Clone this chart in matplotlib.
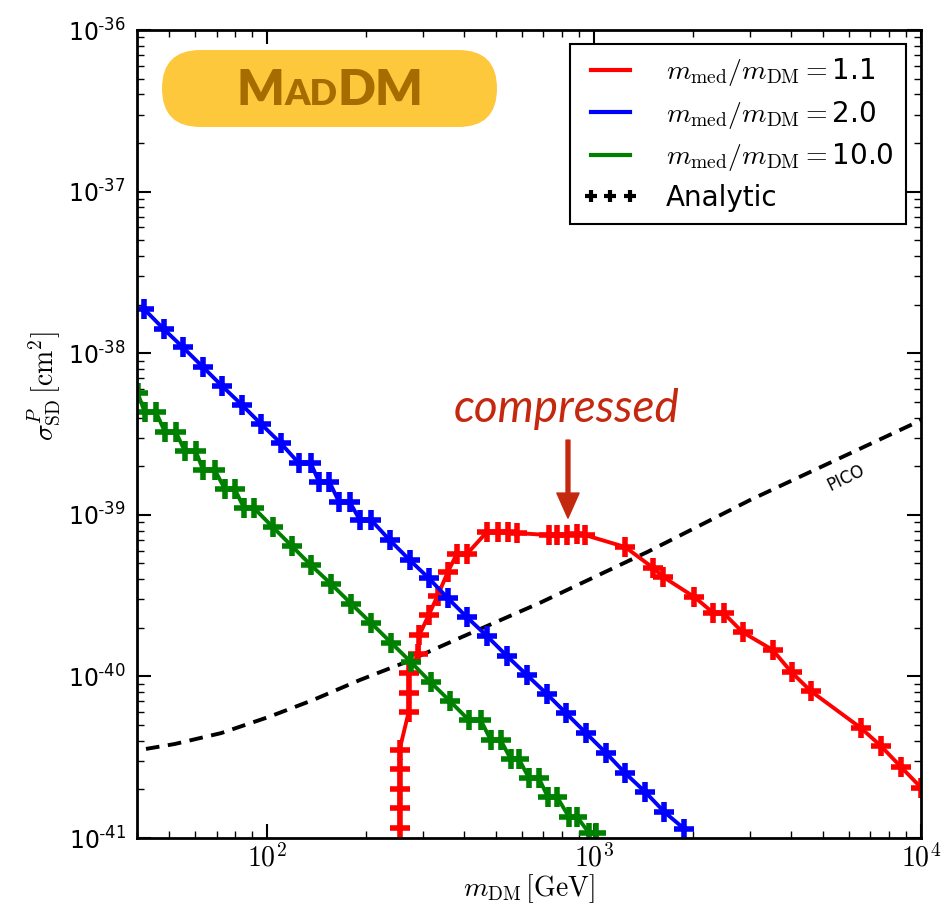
import numpy as np
import matplotlib
matplotlib.use('Agg')
import matplotlib.pyplot as plt
from matplotlib.lines import Line2D
from matplotlib.patches import FancyBboxPatch
from matplotlib.offsetbox import TextArea, HPacker, AnnotationBbox
from matplotlib.ticker import FixedLocator, FixedFormatter, LogLocator, NullFormatter

plt.rcParams['mathtext.fontset'] = 'cm'

# m_med/m_DM = 1.1
red_x = [254, 254, 254, 254, 254, 271, 271, 271, 290, 292, 312, 332, 357, 380, 408,
         470, 508, 545, 581, 728, 771, 827, 887, 938, 1245, 1517, 1629, 2027, 2317,
         2488, 2845, 3516, 4018, 4600, 6546, 7540, 8690, 10000]
red_y = [1.15e-41, 1.53e-41, 2.01e-41, 2.67e-41, 3.51e-41, 6.03e-41, 7.89e-41, 1.05e-40,
         1.38e-40, 1.80e-40, 2.40e-40, 3.15e-40, 4.43e-40, 5.72e-40, 5.72e-40, 7.83e-40,
         7.83e-40, 7.83e-40, 7.71e-40, 7.50e-40, 7.50e-40, 7.50e-40, 7.62e-40, 7.50e-40,
         6.32e-40, 4.69e-40, 4.12e-40, 3.10e-40, 2.47e-40, 2.47e-40, 1.88e-40, 1.46e-40,
         1.06e-40, 8.12e-41, 4.80e-41, 3.71e-41, 2.75e-41, 2.05e-41]

# m_med/m_DM = 2.0
blue_x = [42.0, 48.3, 55.2, 63.6, 72.8, 83.8, 95.8, 110, 125, 136, 144, 155, 166, 179,
          192, 208, 237, 273, 312, 357, 408, 470, 541, 623, 717, 820, 945, 1088, 1245,
          1433, 1640, 1888]
blue_y = [1.88e-38, 1.41e-38, 1.09e-38, 8.22e-39, 6.27e-39, 4.78e-39, 3.65e-39, 2.78e-39,
          2.09e-39, 2.09e-39, 1.60e-39, 1.60e-39, 1.20e-39, 1.20e-39, 9.29e-40, 9.29e-40,
          6.98e-40, 5.25e-40, 4.06e-40, 3.05e-40, 2.33e-40, 1.78e-40, 1.34e-40, 1.02e-40,
          7.79e-41, 5.94e-41, 4.46e-41, 3.36e-41, 2.52e-41, 1.93e-41, 1.45e-41, 1.14e-41]

# m_med/m_DM = 10.0
green_x = [40.2, 42.2, 45.7, 48.7, 52.6, 56.0, 60.5, 63.7, 69.2, 74.3, 79.7, 85.0, 91.2,
           104, 119, 136, 157, 181, 208, 240, 275, 316, 362, 414, 450, 483, 518, 556,
           589, 632, 678, 722, 771, 838, 887, 967, 1014]
green_y = [5.67e-39, 4.33e-39, 4.33e-39, 3.25e-39, 3.25e-39, 2.48e-39, 2.48e-39, 1.89e-39,
           1.89e-39, 1.44e-39, 1.44e-39, 1.10e-39, 1.10e-39, 8.41e-40, 6.41e-40, 4.89e-40,
           3.73e-40, 2.81e-40, 2.14e-40, 1.61e-40, 1.23e-40, 9.23e-41, 7.05e-41, 5.37e-41,
           5.37e-41, 4.04e-41, 4.04e-41, 3.08e-41, 3.08e-41, 2.35e-41, 2.35e-41, 1.79e-41,
           1.79e-41, 1.35e-41, 1.35e-41, 1.07e-41, 1.07e-41]

# PICO limit
pico_x = [42.6, 52.2, 72.3, 101, 138, 192, 261, 388, 682, 1455, 3013, 10000]
pico_y = [3.56e-41, 3.82e-41, 4.46e-41, 5.61e-41, 7.14e-41, 9.5e-41, 1.21e-40, 1.73e-40,
          2.85e-40, 5.89e-40, 1.24e-39, 3.85e-39]

labels = [r'$m_{\rm med}/m_{\rm DM}=$1.1', r'$m_{\rm med}/m_{\rm DM}=$2.0',
          r'$m_{\rm med}/m_{\rm DM}=$10.0', 'Analytic']
xticks = [1e2, 1e3, 1e4]
xticklabels = [r'$10^{2}$', r'$10^{3}$', r'$10^{4}$']
yticks = [1e-41, 1e-40, 1e-39, 1e-38, 1e-37, 1e-36]
yticklabels = [r'$\mathregular{10^{\text{-}41}}$', r'$\mathregular{10^{\text{-}40}}$',
               r'$\mathregular{10^{\text{-}39}}$', r'$\mathregular{10^{\text{-}38}}$',
               r'$\mathregular{10^{\text{-}37}}$', r'$\mathregular{10^{\text{-}36}}$']

fig = plt.figure(figsize=(9.51, 9.13), dpi=100)
ax = fig.add_axes([0.1441, 0.0821, 0.8244, 0.885])

kw = dict(lw=2.8, marker='+', ms=14, mew=4)
ax.plot(pico_x, pico_y, color='k', ls='--', lw=2.8, dashes=(3.5, 2.2))
ax.plot(red_x, red_y, color='r', **kw)
ax.plot(green_x, green_y, color='g', **kw)
ax.plot(blue_x, blue_y, color='b', **kw)

ax.set_xscale('log')
ax.set_yscale('log')
ax.set_xlim(40, 1e4)
ax.set_ylim(1e-41, 1e-36)

ax.xaxis.set_major_locator(FixedLocator(xticks))
ax.xaxis.set_major_formatter(FixedFormatter(xticklabels))
ax.yaxis.set_major_locator(FixedLocator(yticks))
ax.yaxis.set_major_formatter(FixedFormatter(yticklabels))
ax.xaxis.set_minor_locator(LogLocator(base=10, subs=np.arange(2, 10)))
ax.yaxis.set_minor_locator(LogLocator(base=10, subs=np.arange(2, 10)))
ax.xaxis.set_minor_formatter(NullFormatter())
ax.yaxis.set_minor_formatter(NullFormatter())

ax.tick_params(which='both', direction='in', top=True, right=True)
ax.tick_params(which='major', length=10, width=1.5)
ax.tick_params(which='minor', length=5, width=1)
ax.tick_params(axis='x', labelsize=20, pad=4)
ax.tick_params(axis='y', labelsize=17, pad=8)
for s in ax.spines.values():
    s.set_linewidth(2)

ax.set_xlabel(r'$m_{\rm DM}\,[{\rm GeV}]$', fontsize=20, va='center')
ax.set_ylabel(r'$\sigma^P_{\rm SD}\,[{\rm cm}^2]$', fontsize=20, va='center')
ax.xaxis.set_label_coords(0.5, -0.062)
ax.yaxis.set_label_coords(-0.118, 0.559)

handles = [Line2D([], [], color='r', lw=3),
           Line2D([], [], color='b', lw=3),
           Line2D([], [], color='g', lw=3),
           Line2D([], [], color='k', ls='none', marker='+', ms=8, mew=3)]
leg = ax.legend(handles, labels, loc='upper right', bbox_to_anchor=(0.981, 0.983),
                borderaxespad=0, fontsize=20, numpoints=3, fancybox=False,
                edgecolor='k', framealpha=1, handlelength=2.0, handletextpad=1.0,
                labelspacing=0.38, borderpad=0.45)
leg.get_frame().set_linewidth(1.5)

# PICO label and the "compressed" annotation
ax.text(5890, 1.69e-39, 'PICO', fontsize=12, rotation=26, ha='center', va='center')
ax.text(826, 3.75e-39, 'compressed', color='#c4280e', fontsize=33, family='Lato',
        style='italic', ha='center', va='baseline')
ax.annotate('', xy=(832, 9.55e-40), xytext=(832, 2.9e-39),
            arrowprops=dict(color='#c4280e', width=2.8, headwidth=16, headlength=18, shrink=0))

# MadDM badge
badge = FancyBboxPatch((1.62, 7.86), 3.35, 0.77, boxstyle='round,pad=0,rounding_size=0.385',
                       transform=fig.dpi_scale_trans, facecolor='#fec83c', edgecolor='none')
fig.add_artist(badge)
tp_big = dict(color='#a66c00', fontsize=36, family='Lato', weight='heavy')
tp_small = dict(color='#a66c00', fontsize=26, family='Lato', weight='heavy')
pack = HPacker(children=[TextArea('M', textprops=tp_big), TextArea('AD', textprops=tp_small),
                         TextArea('DM', textprops=tp_big)], align='baseline', pad=0, sep=0)
ab = AnnotationBbox(pack, (3.30, 8.23), xycoords=fig.dpi_scale_trans, frameon=False,
                    box_alignment=(0.5, 0.5))
fig.add_artist(ab)

fig.savefig('out.png', dpi=100)
